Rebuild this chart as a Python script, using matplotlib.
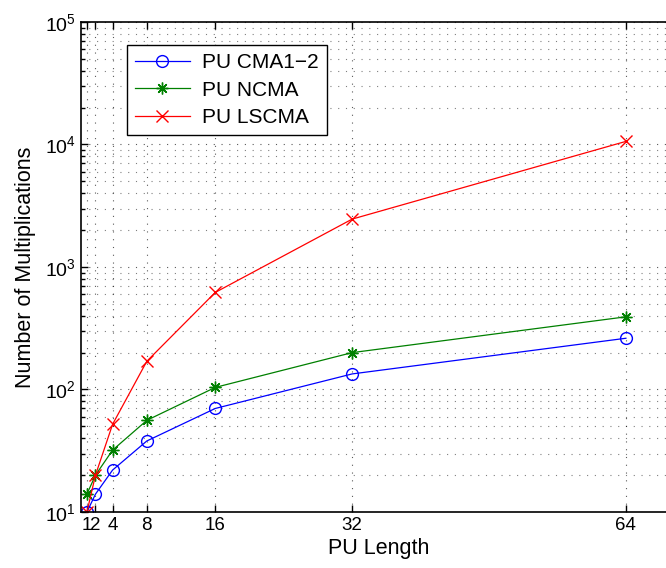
import matplotlib
matplotlib.use("Agg")
import matplotlib.pyplot as plt
from matplotlib.ticker import LogLocator, FixedLocator, NullFormatter

plt.rcParams['font.family'] = ['Liberation Sans', 'DejaVu Sans']
plt.rcParams['mathtext.fontset'] = 'custom'
plt.rcParams['mathtext.rm'] = 'Liberation Sans'
plt.rcParams['mathtext.it'] = 'Liberation Sans:italic'

pu_length = [1, 2, 4, 8, 16, 32, 64]
cma12 = [10, 14, 22, 38, 70, 134, 262]
ncma = [14, 20, 32, 56, 104, 200, 392]
lscma = [10, 20, 52, 170, 620, 2460, 10600]
labels = ['PU CMA1\u22122', 'PU NCMA', 'PU LSCMA']

fig = plt.figure(figsize=(6.66, 5.68), dpi=100)
ax = fig.add_axes([0.1209, 0.0986, 0.896, 0.8627])

ax.plot(pu_length, cma12, color=(0, 0, 1), marker='o', mfc='none', ms=8.5, lw=0.9, mew=1, label=labels[0])
ax.plot(pu_length, ncma, color=(0, 0.5, 0), marker=(8, 2, 0), ms=8.5, lw=0.9, mew=1, label=labels[1])
ax.plot(pu_length, lscma, color=(1, 0, 0), marker='x', ms=8, lw=0.9, mew=1, label=labels[2])

ax.set_yscale('log')
ax.set_xlim(0.25, 70)
ax.set_ylim(10, 1e5)
ax.xaxis.set_major_locator(FixedLocator(pu_length))
ax.set_xticklabels([str(v) for v in pu_length])
ax.yaxis.set_major_locator(LogLocator(base=10, numticks=10))
ax.yaxis.set_minor_locator(LogLocator(base=10, subs=range(2, 10), numticks=20))
ax.yaxis.set_minor_formatter(NullFormatter())

ax.tick_params(which='both', direction='in', top=True, right=True, labelsize=14, width=1)
ax.tick_params(axis='x', labelsize=13.5)
ax.tick_params(which='major', length=5)
ax.tick_params(which='minor', length=3)
ax.grid(True, which='major', axis='both', color='black', linestyle=(0, (1, 6)), lw=0.8, alpha=0.65)
ax.grid(True, which='minor', axis='y', color='black', linestyle=(0, (1, 6)), lw=0.8, alpha=0.5)
for s in ax.spines.values():
    s.set_linewidth(1.2)

ax.set_xlabel('PU Length', fontsize=15.5, labelpad=3)
ax.set_ylabel('Number of Multiplications', fontsize=15.5, labelpad=6)

leg = ax.legend(loc='upper left', bbox_to_anchor=(0.078, 0.953), borderaxespad=0,
                fontsize=15, handlelength=2.6, fancybox=False, framealpha=1,
                edgecolor='black', borderpad=0.4, labelspacing=0.4, handletextpad=0.6)
leg.get_frame().set_linewidth(1)

fig.savefig('out.png', dpi=100)
